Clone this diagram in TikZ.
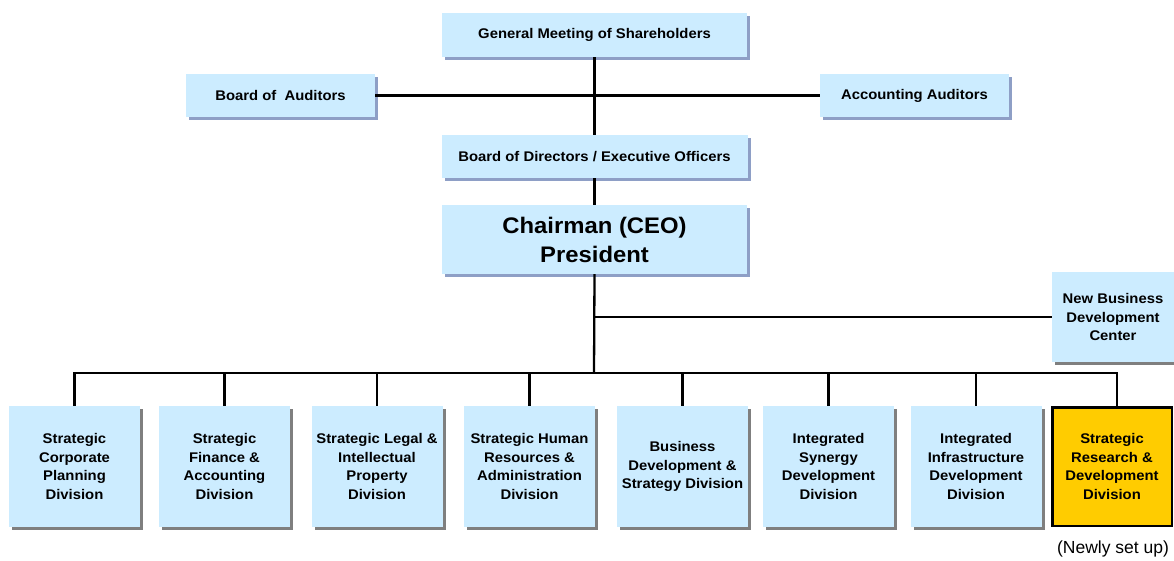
\documentclass[tikz,border=0pt]{standalone}
\usepackage{fontspec}
\setmainfont{Liberation Sans}[FakeStretch=1.06]
\newfontfamily\plainfont{Liberation Sans}
\usetikzlibrary{shadows}
\definecolor{boxfill}{HTML}{CCECFF}
\definecolor{topshadow}{HTML}{8E9FC6}
\definecolor{botshadow}{HTML}{7F7F7F}
\definecolor{newyellow}{HTML}{FFCC00}
\tikzset{
  orgbox/.style={rectangle, fill=boxfill, draw=none, align=center, inner sep=0pt,
    font=\bfseries\fontsize{14}{18.5}\selectfont},
  topbox/.style={orgbox, copy shadow={shadow xshift=3pt, shadow yshift=-3pt, fill=topshadow, draw=none}},
  grayshadow/.style={copy shadow={shadow xshift=3pt, shadow yshift=-3pt, fill=botshadow, draw=none}},
  divbox/.style={orgbox, grayshadow, minimum width=131pt, minimum height=121pt},
  link/.style={line width=2.3pt, line join=miter}
}
\begin{document}
\begin{tikzpicture}[x=1pt, y=-1pt]
\useasboundingbox (0,0) rectangle (1174,560);
\clip (0,0) rectangle (1174,560);

% upper levels
\node[topbox, minimum width=305pt, minimum height=44pt] (gm) at (594.5,35) {General Meeting of Shareholders};
\node[topbox, minimum width=189pt, minimum height=43pt] (boa) at (280.5,95.5) {Board of\ \ Auditors};
\node[topbox, minimum width=189pt, minimum height=43pt] (aca) at (914.5,95.5) {Accounting Auditors};
\node[topbox, minimum width=306pt, minimum height=43pt] (bod) at (594.5,156.5) {Board of Directors / Executive Officers};
\node[topbox, minimum width=305pt, minimum height=69pt, font=\bfseries\fontsize{22.5}{29}\selectfont] (ch) at (594.5,239.5) {Chairman (CEO)\\President};
\node[orgbox, grayshadow, minimum width=122pt, minimum height=90pt] (nb) at (1113,317) {New Business\\Development\\Center};

% divisions
\node[divbox] (d1) at (74.5,466.5) {Strategic\\Corporate\\Planning\\Division};
\node[divbox] (d2) at (224.5,466.5) {Strategic\\Finance \&\\Accounting\\Division};
\node[divbox] (d3) at (377,466.5) {Strategic Legal \&\\Intellectual\\Property\\Division};
\node[divbox] (d4) at (529.5,466.5) {Strategic Human\\Resources \&\\Administration\\Division};
\node[divbox] (d5) at (682.5,466.5) {Business\\Development \&\\Strategy Division};
\node[divbox] (d6) at (828.5,466.5) {Integrated\\Synergy\\Development\\Division};
\node[divbox] (d7) at (976,466.5) {Integrated\\Infrastructure\\Development\\Division};
\node[orgbox, fill=newyellow, draw=black, line width=2.5pt, minimum width=119.5pt, minimum height=118.5pt] (d8) at (1112,466.5) {Strategic\\Research \&\\Development\\Division};
\node[font=\plainfont\fontsize{17.5}{20}\selectfont, inner sep=0pt] (note) at (1113,549) {(Newly set up)};

% connectors
\coordinate (bus) at (594,373);
\coordinate (t8) at (1117,373);
\draw[link] (gm.south) -- (bod.north);
\draw[link] (boa.east) -- (aca.west);
\draw[link] (bod.south) -- (ch.north);
\draw[link] (ch.south) -- (bus);
\draw[link] (ch.south |- nb.west) -- (nb.west);
\draw[link] (d1.north) -- (d1.north |- bus) -- (t8) -- (t8 |- d8.north);
\foreach \d in {d2,d3,d4,d5,d6,d7}{
  \draw[link] (\d.north) -- (\d.north |- bus);
}
\end{tikzpicture}
\end{document}
